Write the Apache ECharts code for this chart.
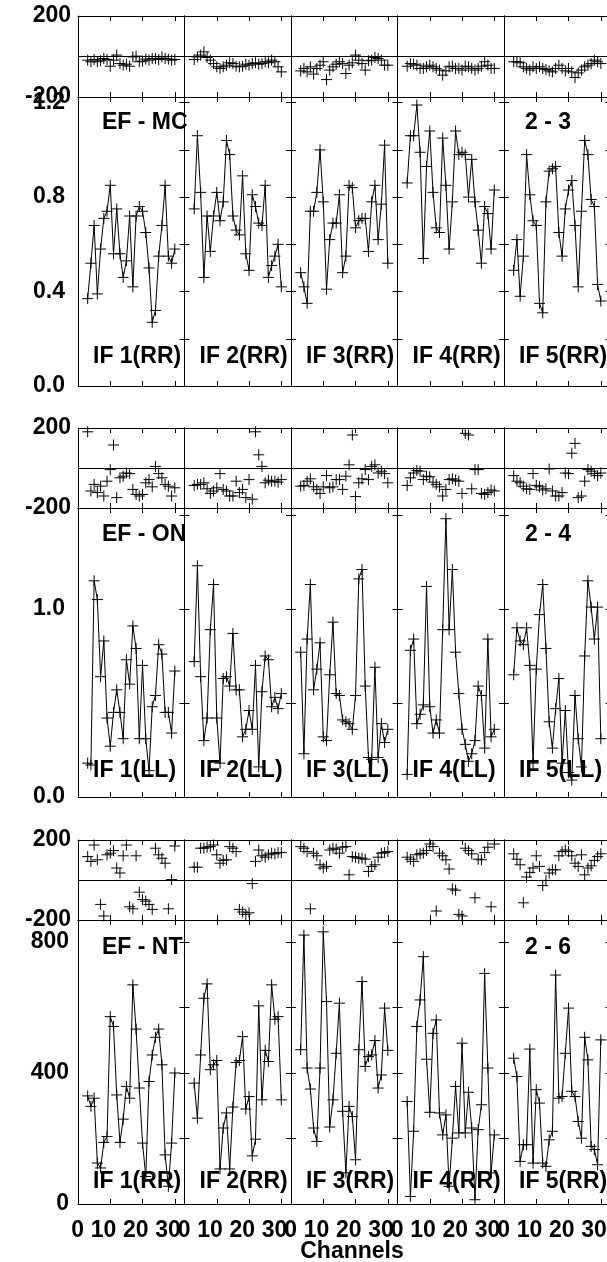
<!DOCTYPE html>
<html><head><meta charset="utf-8">
<script src="https://cdn.jsdelivr.net/npm/echarts@6/dist/echarts.min.js"></script>
<style>html,body{margin:0;padding:0;background:#fff}#c{width:607px;height:1262px}</style>
</head><body><div id="c"></div><script>
// ---------- DATA ----------
const channels = [3,4,5,6,7,8,9,10,11,12,13,14,15,16,17,18,19,20,21,22,23,24,25,26,27,28,29,30];
const xTicks = [0,10,20,30];
const ifNames = ['IF 1','IF 2','IF 3','IF 4','IF 5'];
const groupNames = ['EF - MC','EF - ON','EF - NT'];
const baselineNames = ['2 - 3','2 - 4','2 - 6'];
const polarizations = ['RR','LL','RR'];

// EF - MC (2 - 3) phase (deg) and amplitude
const phMC1 = [-18,-26,-15,-26,-21,-10,-15,-48,-18,7,-35,-43,-38,-48,-2,2,-26,-23,-13,-18,-10,-10,-15,-2,-10,-13,-18,-15];
const phMC2 = [-15,-2,7,23,-5,-18,-35,-51,-59,-51,-43,-31,-35,-48,-51,-48,-38,-43,-35,-31,-38,-35,-26,-31,-18,-26,-51,-76];
const phMC3 = [-71,-59,-76,-51,-87,-59,-43,-26,-114,-67,-51,-38,-26,-35,-84,-43,-31,7,-18,-35,-67,-21,-18,-5,-10,-18,-43,-43];
const phMC4 = [-48,-35,-38,-43,-59,-59,-51,-43,-51,-59,-67,-92,-71,-51,-48,-59,-59,-67,-48,-51,-59,-67,-59,-48,-26,-43,-59,-59];
const phMC5 = [-26,-26,-31,-51,-59,-67,-51,-59,-51,-59,-64,-71,-76,-59,-43,-59,-71,-59,-76,-104,-81,-67,-51,-43,-35,-18,-26,-35];
const ampMC1 = [0.37,0.52,0.68,0.39,0.58,0.71,0.74,0.85,0.56,0.75,0.56,0.46,0.53,0.72,0.42,0.72,0.76,0.74,0.65,0.50,0.27,0.32,0.55,0.68,0.85,0.55,0.52,0.58];
const ampMC2 = [0.75,1.06,0.82,0.46,0.72,0.57,0.72,0.82,0.70,0.78,1.04,0.98,0.72,0.66,0.64,0.89,0.56,0.49,0.81,0.76,0.69,0.68,0.85,0.46,0.51,0.55,0.60,0.42];
const ampMC3 = [0.48,0.42,0.35,0.74,0.74,0.82,1.00,0.78,0.41,0.62,0.69,0.69,0.81,0.48,0.55,0.85,0.84,0.67,0.70,0.71,0.71,0.57,0.78,0.85,0.62,0.77,1.02,0.52];
const ampMC4 = [0.86,1.06,1.06,1.19,0.99,0.54,0.93,1.08,0.82,0.67,0.65,1.05,0.85,0.58,0.78,1.08,0.98,0.99,0.98,0.80,0.96,0.78,0.66,0.52,0.76,0.73,0.58,0.83];
const ampMC5 = [0.49,0.62,0.38,0.55,0.98,0.81,0.70,0.68,0.35,0.31,0.78,0.91,0.92,0.93,0.65,0.55,0.75,0.83,0.87,0.68,0.42,0.74,1.04,0.98,0.79,0.76,0.43,0.36];

// EF - ON (2 - 4)
const phON1 = [181,-115,-82,-123,-91,-140,-66,-8,115,-148,-49,-41,-25,-28,-107,-132,-140,-132,-74,-58,-94,8,-28,-49,-82,-91,-140,-99];
const phON2 = [-87,-82,-82,-74,-104,-127,-115,-99,-28,-107,-115,-140,-140,-66,-123,-107,-148,-58,-156,181,66,8,-74,-61,-66,-66,-71,-58];
const phON3 = [-91,-87,-66,-54,-94,-107,-127,-94,-38,-99,-94,-58,-58,-107,-41,16,165,-143,-74,-54,-8,-58,8,16,-25,-16,-28,-74];
const phON4 = [-87,-49,-25,-12,-16,-58,-41,-44,-71,-82,-94,-140,-107,-58,-54,-61,-66,-127,173,165,-104,-8,-8,-127,-132,-123,-110,-115];
const phON5 = [-38,-66,-74,-91,-104,-107,-28,-87,-94,-110,-104,-5,-115,-140,-140,-123,-25,-28,74,123,-148,-140,-66,-8,-16,-28,-38,-25];
const ampON1 = [0.18,0.17,1.15,1.05,0.64,0.83,0.42,0.27,0.45,0.57,0.45,0.31,0.73,0.60,0.91,0.79,0.31,0.70,0.31,0.14,0.48,0.54,0.81,0.76,0.45,0.45,0.34,0.67];
const ampON2 = [0.72,1.23,0.64,0.30,0.42,0.89,1.13,0.42,0.18,0.63,0.64,0.59,0.87,0.57,0.57,0.32,0.36,0.46,0.36,0.70,0.16,0.56,0.75,0.73,0.48,0.53,0.47,0.55];
const ampON3 = [0.77,0.23,0.84,1.13,0.57,0.68,0.82,0.32,0.30,0.65,0.93,0.55,0.54,0.41,0.40,0.39,0.36,0.54,1.16,1.21,0.59,0.21,0.20,0.69,0.21,0.39,0.29,0.36];
const ampON4 = [0.12,0.78,0.84,0.39,0.44,0.49,1.12,0.48,0.34,0.41,0.34,0.89,1.48,0.89,1.21,0.77,0.55,0.36,0.28,0.19,0.23,0.30,0.59,0.54,0.26,0.84,0.32,0.36];
const ampON5 = [0.65,0.90,0.83,0.81,0.90,0.70,0.18,0.68,0.97,1.13,0.79,0.40,0.26,0.47,0.63,0.18,0.46,0.13,0.09,0.54,0.31,0.16,0.75,1.15,1.01,0.84,1.01,0.31];

// EF - NT (2 - 6)
const phNT1 = [117,93,175,101,-122,-180,126,134,147,60,35,121,175,-134,-144,121,-61,-98,-106,-122,-147,159,126,109,84,-144,2,170];
const phNT2 = [64,64,159,159,164,167,175,126,84,98,101,167,159,142,-147,-160,-172,-164,-18,93,150,121,114,126,134,131,137,137];
const phNT3 = [167,159,142,-144,134,121,76,60,68,150,159,154,134,164,167,26,117,114,109,109,104,43,68,76,114,134,137,142];
const phNT4 = [114,104,93,126,131,134,147,180,167,-155,134,121,101,55,-45,-51,-172,-180,159,147,131,-89,104,101,137,164,-134,180];
const phNT5 = [131,104,76,-114,15,38,60,121,68,-28,-2,35,51,51,121,142,150,142,121,84,68,126,26,60,71,98,117,131];
const ampNT1 = [330,298,323,125,110,188,206,572,542,333,188,259,359,323,669,534,354,186,84,374,455,509,534,425,150,54,186,400];
const ampNT2 = [369,262,455,628,672,410,425,438,107,232,278,107,296,432,438,511,290,328,147,198,605,318,469,435,669,564,572,318];
const ampNT3 = [471,821,415,351,232,191,415,831,618,235,318,460,613,283,95,298,267,135,471,679,420,450,455,499,354,394,598,469];
const ampNT4 = [313,23,222,542,623,755,442,280,521,562,278,211,272,54,201,359,217,491,217,341,232,13,227,303,704,415,95,211];
const ampNT5 = [445,389,130,181,181,473,125,349,308,125,115,196,222,699,323,328,460,598,344,328,252,201,509,440,176,166,120,501];

const phaseSets = [[phMC1,phMC2,phMC3,phMC4,phMC5],[phON1,phON2,phON3,phON4,phON5],[phNT1,phNT2,phNT3,phNT4,phNT5]];
const ampSets = [[ampMC1,ampMC2,ampMC3,ampMC4,ampMC5],[ampON1,ampON2,ampON3,ampON4,ampON5],[ampNT1,ampNT2,ampNT3,ampNT4,ampNT5]];

// ---------- LAYOUT ----------
const FONT = '"Liberation Sans", Arial, sans-serif';
const CROSS = 'path://M0,5L10,5M5,0L5,10';
const colLeft = [78, 184.5, 291, 397.5, 504];
const colW = 106.5;
const layout = [
  {phTop:16,  phH:81, ampTop:97,  ampH:289, ampMax:1.224, ampInt:0.2, labStep:0.4, labDec:1, ampMargin:13, ifY:357,  titleY:122.5},
  {phTop:428, phH:80, ampTop:508, ampH:289, ampMax:1.537, ampInt:0.5, labStep:1.0, labDec:1, ampMargin:13, ifY:771,  titleY:535},
  {phTop:840, phH:80, ampTop:920, ampH:284, ampMax:867,   ampInt:200, labStep:400, labDec:0, ampMargin:9,  ifY:1182, titleY:948}
];

const grids=[], xAxes=[], yAxes=[], series=[], graphics=[];
const lineBlack = {color:'#000', width:1};
const labelFont = {color:'#000', fontSize:23, fontWeight:'bold', fontFamily:FONT};

function addPanel(left, top, w, h, opts){
  const gi = grids.length;
  grids.push({left, top, width:w, height:h, containLabel:false, outerBoundsMode:'none'});
  const xb = xAxes.length;
  ['bottom','top'].forEach((pos,k)=>{
    const showLab = (pos==='bottom' && opts.xLabels);
    xAxes.push({gridIndex:gi, type:'value', position:pos, min:0, max:33, interval:10,
      axisLine:{show:true, onZero:false, lineStyle:lineBlack},
      axisTick:{show:true, inside:true, length:5, lineStyle:lineBlack},
      splitLine:{show:false},
      axisLabel: showLab ? {show:true, margin:15, align:'center', showMaxLabel:false,
        formatter: v => xTicks.indexOf(v) >= 0 ? '{t|' + v + '}' : '',
        rich:{t:Object.assign({width:12, align:'right'}, labelFont)}} : {show:false}
    });
  });
  const yb = yAxes.length;
  ['left','right'].forEach(pos=>{
    const showLab = (pos==='left' && opts.yLabels);
    yAxes.push({gridIndex:gi, type:'value', position:pos, min:opts.ymin, max:opts.ymax, interval:opts.yint,
      axisLine:{show:true, onZero:false, lineStyle:lineBlack},
      axisTick:{show: opts.yTicks && !(pos==='left' && opts.firstCol), inside:true, length:5, lineStyle:lineBlack},
      splitLine:{show:false},
      axisLabel: showLab ? Object.assign({show:true, margin:opts.yMargin, showMinLabel:true, showMaxLabel:opts.showMax,
        formatter: opts.yFmt}, labelFont) : {show:false}
    });
  });
  return {x:xb, y:yb};
}

layout.forEach((L, g)=>{
  for(let c=0;c<5;c++){
    // phase panel
    const p = addPanel(colLeft[c], L.phTop, colW, L.phH, {
      ymin:-200, ymax:200, yint:200, yTicks:false, firstCol:c===0, yLabels:c===0, yMargin:7, showMax:true,
      yFmt: v => v===0 ? '' : String(v), xLabels:false});
    series.push({type:'scatter', xAxisIndex:p.x, yAxisIndex:p.y, silent:true,
      data: channels.map((ch,i)=>[ch, phaseSets[g][c][i]]),
      symbol:CROSS, symbolSize:11,
      itemStyle:{color:'#000', borderColor:'#000', borderWidth:1, opacity:1},
      markLine:{silent:true, symbol:'none', label:{show:false}, lineStyle:{color:'#000', width:1, type:'solid'},
        data:[{yAxis:0}]}
    });
    // amplitude panel
    const a = addPanel(colLeft[c], L.ampTop, colW, L.ampH, {
      ymin:0, ymax:L.ampMax, yint:L.ampInt, yTicks:true, firstCol:c===0, yLabels:c===0, yMargin:L.ampMargin, showMax:false,
      yFmt: v => { const r = v / L.labStep; return Math.abs(r - Math.round(r)) < 1e-6 ? v.toFixed(L.labDec) : ''; },
      xLabels: g===2});
    series.push({type:'line', xAxisIndex:a.x, yAxisIndex:a.y, silent:true,
      data: channels.map((ch,i)=>[ch, ampSets[g][c][i]]),
      symbol:CROSS, symbolSize:11, showSymbol:true, showAllSymbol:true,
      lineStyle:{color:'#000', width:1},
      itemStyle:{color:'#000', borderColor:'#000', borderWidth:1},
      emphasis:{disabled:true}
    });
    graphics.push({type:'text', x:colLeft[c]+15, y:L.ifY, z:100, silent:true,
      style:Object.assign({text: ifNames[c] + '(' + polarizations[g] + ')', fill:'#000', align:'left', verticalAlign:'middle'},
        {fontSize:23, fontWeight:'bold', fontFamily:FONT})});
  }
  graphics.push({type:'text', x:102, y:L.titleY, z:100, silent:true,
    style:{text:groupNames[g], fill:'#000', align:'left', verticalAlign:'middle', fontSize:23, fontWeight:'bold', fontFamily:FONT}});
  graphics.push({type:'text', x:525, y:L.titleY, z:100, silent:true,
    style:{text:baselineNames[g], fill:'#000', align:'left', verticalAlign:'middle', fontSize:23, fontWeight:'bold', fontFamily:FONT}});
});
graphics.push({type:'text', x:352, y:1252, z:100, silent:true,
  style:{text:'Channels', fill:'#000', align:'center', verticalAlign:'middle', fontSize:23, fontWeight:'bold', fontFamily:FONT}});

const chart = echarts.init(document.getElementById('c'), null, {renderer:'canvas'});
chart.setOption({
  animation:false,
  backgroundColor:'#fff',
  grid:grids, xAxis:xAxes, yAxis:yAxes, series:series, graphic:graphics,
  tooltip:{show:false}
});
</script></body></html>
